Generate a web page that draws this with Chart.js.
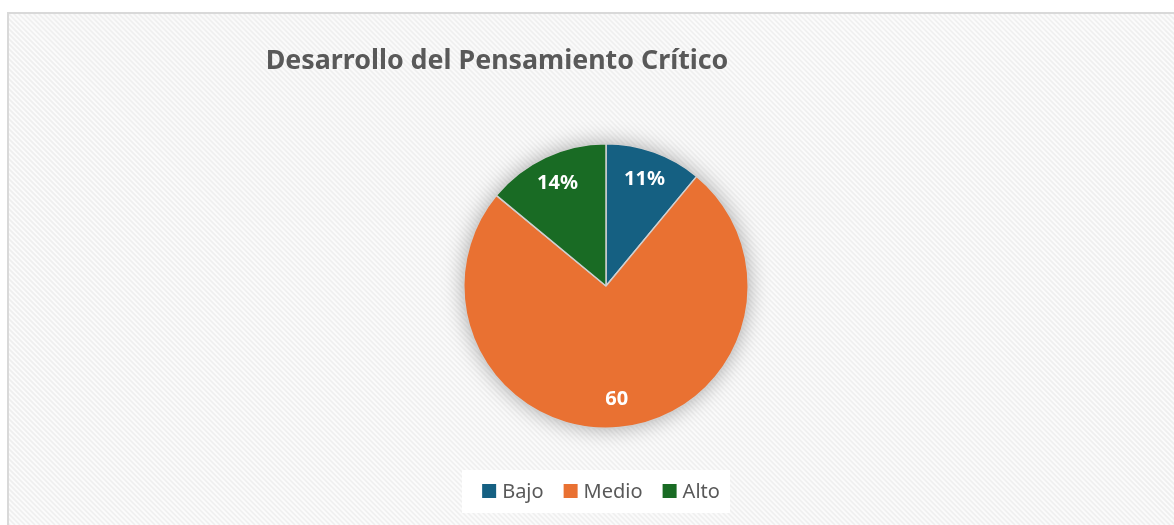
<!DOCTYPE html>
<html>
<head>
<meta charset="utf-8">
<script src="https://cdn.jsdelivr.net/npm/chart.js@4"></script>
<style>
  html, body { margin: 0; padding: 0; background: #fff; }
  #wrap { width: 1174px; height: 525px; position: relative; }
</style>
</head>
<body>
<div id="wrap"><canvas id="pieChart" width="1174" height="525"></canvas></div>
<script>
const chartTitle = 'Desarrollo del Pensamiento Crítico';
const categories = ['Bajo', 'Medio', 'Alto'];
const values = [11, 75, 14];
const valueLabels = ['11%', '60', '14%'];
const sliceColors = ['#156082', '#E97132', '#196B24'];

const FONT = '"Noto Sans", "Open Sans", sans-serif';

// hatched frame behind the chart
const backdrop = {
    id: 'backdrop',
    beforeDraw(chart) {
        const ctx = chart.ctx;
        const w = chart.width, h = chart.height;
        ctx.save();
        ctx.fillStyle = '#ffffff';
        ctx.fillRect(0, 0, w, h);
        ctx.fillStyle = '#fbfbfb';
        ctx.fillRect(8, 13, w - 8, h - 13);
        ctx.beginPath();
        ctx.rect(8, 13, w - 8, h - 13);
        ctx.clip();
        ctx.strokeStyle = '#efefef';
        ctx.lineWidth = 1.6;
        for (let x = -h; x < w + h; x += 5) {
            ctx.beginPath();
            ctx.moveTo(x, 0);
            ctx.lineTo(x + h, h);
            ctx.stroke();
        }
        ctx.restore();
        ctx.save();
        ctx.fillStyle = '#d9d9d9';
        ctx.fillRect(7, 12, 2, h - 12);
        ctx.fillRect(7, 12, w - 7, 2);
        ctx.restore();
    },
    beforeDatasetsDraw(chart) {
        const arc = chart.getDatasetMeta(0).data[0];
        if (!arc) return;
        const ctx = chart.ctx;
        ctx.save();
        ctx.shadowColor = 'rgba(0,0,0,0.35)';
        ctx.shadowBlur = 22;
        ctx.fillStyle = '#ffffff';
        ctx.beginPath();
        ctx.arc(arc.x, arc.y, arc.outerRadius - 1, 0, Math.PI * 2);
        ctx.fill();
        ctx.restore();
    }
};

// title, value labels and legend
const decorations = {
    id: 'decorations',
    afterDraw(chart) {
        const ctx = chart.ctx;
        ctx.save();
        ctx.fillStyle = '#595959';
        ctx.font = 'bold 26.8px ' + FONT;
        ctx.textAlign = 'center';
        ctx.textBaseline = 'middle';
        ctx.fillText(chartTitle, 497, 61);

        const meta = chart.getDatasetMeta(0);
        ctx.fillStyle = '#ffffff';
        ctx.font = 'bold 20px ' + FONT;
        meta.data.forEach((arc, i) => {
            const mid = (arc.startAngle + arc.endAngle) / 2;
            const r = arc.outerRadius * 0.8;
            ctx.fillText(valueLabels[i], arc.x + Math.cos(mid) * r, arc.y + Math.sin(mid) * r);
        });

        // legend
        ctx.font = '20px ' + FONT;
        const box = 14, gap = 6, itemGap = 20;
        let total = 0;
        const widths = chart.data.labels.map(l => ctx.measureText(l).width);
        widths.forEach(wd => total += box + gap + wd);
        total += itemGap * (widths.length - 1);
        const cx = 601, cy = 491;
        ctx.fillStyle = '#ffffff';
        ctx.fillRect(462, 470, 268, 43);
        let x = cx - total / 2;
        ctx.textAlign = 'left';
        chart.data.labels.forEach((label, i) => {
            ctx.fillStyle = sliceColors[i];
            ctx.fillRect(x, cy - box / 2, box, box);
            ctx.fillStyle = '#595959';
            ctx.fillText(label, x + box + gap, cy + 1);
            x += box + gap + widths[i] + itemGap;
        });
        ctx.restore();
    }
};

new Chart(document.getElementById('pieChart'), {
    type: 'pie',
    data: {
        labels: categories,
        datasets: [{
            data: values,
            backgroundColor: sliceColors,
            borderColor: '#d0d0d0',
            borderWidth: 1.5
        }]
    },
    options: {
        responsive: false,
        animation: false,
        layout: {
            padding: { top: 143, bottom: 96, left: 456, right: 418 }
        },
        plugins: {
            legend: { display: false },
            title: { display: false },
            tooltip: { enabled: false }
        }
    },
    plugins: [backdrop, decorations]
});
</script>
</body>
</html>
